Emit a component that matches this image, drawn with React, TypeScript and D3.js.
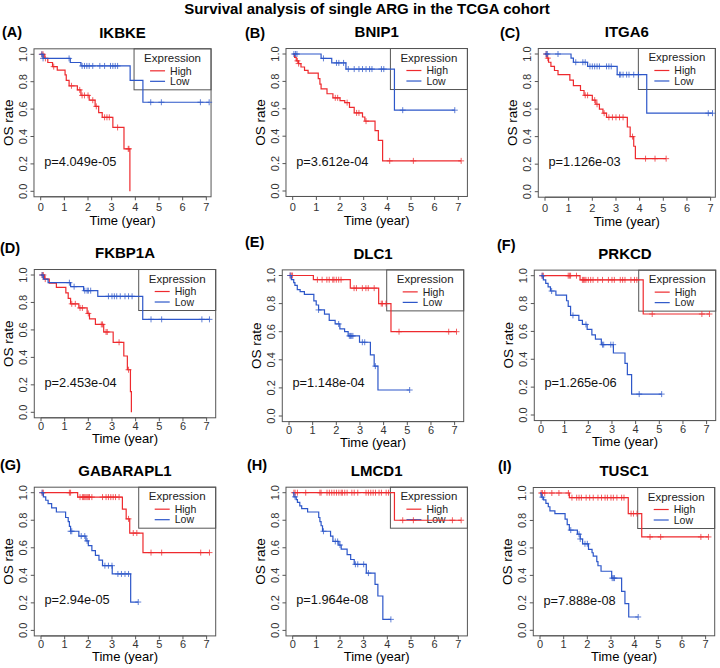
import React from "react";
import * as d3 from "d3";

// ---------- text ----------
const mainTitle = "Survival analysis of single ARG in the TCGA cohort";
const panelLetters = ["(A)", "(B)", "(C)", "(D)", "(E)", "(F)", "(G)", "(H)", "(I)"];
const genes = ["IKBKE", "BNIP1", "ITGA6", "FKBP1A", "DLC1", "PRKCD", "GABARAPL1", "LMCD1", "TUSC1"];
const pValues = ["p=4.049e-05", "p=3.612e-04", "p=1.126e-03", "p=2.453e-04", "p=1.148e-04", "p=1.265e-06", "p=2.94e-05", "p=1.964e-08", "p=7.888e-08"];
const xTicks = [0, 1, 2, 3, 4, 5, 6, 7];
const yTicks = [0, 0.2, 0.4, 0.6, 0.8, 1.0];
const legendTitle = "Expression";
const groups = ["High", "Low"];
const xLabel = "Time (year)";
const yLabel = "OS rate";

// ---------- KM steps: [time, survival after drop] and censor times ----------
const ikbkeHigh = [[0.15, 0.97], [0.3, 0.94], [0.5, 0.91], [0.7, 0.885], [1.03, 0.85], [1.08, 0.81], [1.2, 0.77], [1.55, 0.74], [1.7, 0.70], [2.05, 0.665], [2.3, 0.62], [2.45, 0.575], [2.6, 0.54], [3.05, 0.466], [3.52, 0.31], [3.77, 0]];
const ikbkeHighCens = [0.05, 0.1, 0.2, 0.55, 1.3, 1.65, 1.75, 1.85, 2.0, 2.2, 2.35, 2.7, 2.8, 2.9, 3.25, 3.7, 3.73];
const ikbkeLow = [[0.1, 0.97], [1.25, 0.94], [1.7, 0.915], [3.78, 0.81], [4.32, 0.65]];
const ikbkeLowCens = [0.05, 0.1, 1.2, 1.75, 1.85, 1.95, 2.05, 2.2, 2.5, 2.7, 2.95, 3.05, 3.15, 3.25, 4.65, 5.1, 6.75, 7.12];

const bnip1High = [[0.08, 0.975], [0.15, 0.95], [0.25, 0.93], [0.35, 0.905], [0.5, 0.88], [0.65, 0.86], [1.08, 0.82], [1.15, 0.78], [1.2, 0.745], [1.45, 0.71], [1.7, 0.68], [2.0, 0.66], [2.2, 0.645], [2.4, 0.61], [2.6, 0.57], [2.95, 0.54], [3.05, 0.51], [3.48, 0.44], [3.62, 0.37], [3.8, 0.22]];
const bnip1HighCens = [0.2, 0.25, 1.8, 1.9, 2.3, 2.7, 2.8, 3.1, 4.1, 5.1, 7.12];
const bnip1Low = [[1.2, 0.968], [1.65, 0.935], [2.25, 0.89], [4.3, 0.59]];
const bnip1LowCens = [0.05, 0.12, 0.18, 1.3, 1.85, 1.95, 2.15, 2.35, 2.6, 2.8, 2.95, 3.1, 3.25, 3.35, 3.75, 3.85, 4.65, 6.85];

const itga6High = [[0.08, 0.97], [0.15, 0.94], [0.25, 0.91], [0.4, 0.88], [0.55, 0.85], [1.05, 0.81], [1.2, 0.77], [1.5, 0.735], [1.65, 0.70], [2.0, 0.665], [2.15, 0.635], [2.3, 0.60], [2.45, 0.57], [2.6, 0.54], [3.48, 0.47], [3.6, 0.40], [3.75, 0.33], [3.82, 0.24]];
const itga6HighCens = [0.05, 0.12, 1.7, 1.8, 2.1, 2.2, 2.5, 2.7, 2.85, 3.0, 3.15, 3.3, 3.7, 4.25, 4.65, 5.12];
const itga6Low = [[1.1, 0.97], [1.2, 0.94], [1.8, 0.91], [3.05, 0.85], [4.3, 0.57]];
const itga6LowCens = [0.05, 0.1, 0.55, 1.3, 1.6, 1.7, 1.9, 2.0, 2.1, 2.2, 2.3, 2.6, 2.7, 2.8, 3.15, 3.2, 3.3, 3.45, 3.55, 3.75, 3.95, 6.9, 7.08];

const fkbp1aHigh = [[0.15, 0.97], [0.35, 0.94], [0.65, 0.91], [1.05, 0.87], [1.15, 0.83], [1.25, 0.79], [1.6, 0.76], [1.95, 0.72], [2.05, 0.68], [2.3, 0.64], [2.65, 0.585], [3.05, 0.51], [3.5, 0.41], [3.65, 0.31], [3.78, 0.15], [3.82, 0]];
const fkbp1aHighCens = [0.05, 0.1, 0.18, 1.3, 1.45, 1.65, 1.75, 2.0, 2.55, 2.6, 2.75, 2.8, 3.3, 3.7];
const fkbp1aLow = [[0.1, 0.97], [0.3, 0.944], [1.25, 0.915], [1.8, 0.886], [2.4, 0.845], [4.3, 0.677]];
const fkbp1aLowCens = [0.05, 1.2, 1.4, 1.85, 1.95, 2.0, 2.1, 2.85, 3.0, 3.1, 3.2, 3.35, 3.55, 3.7, 3.85, 4.65, 5.1, 6.8, 7.12];

const dlc1High = [[1.03, 0.97], [2.59, 0.91], [3.79, 0.80], [4.31, 0.60]];
const dlc1HighCens = [0.05, 0.1, 0.15, 1.2, 1.4, 1.6, 1.7, 1.85, 1.9, 2.0, 2.1, 2.2, 2.75, 2.85, 3.1, 3.25, 3.35, 3.6, 3.9, 3.95, 4.1, 4.65, 6.75, 7.08];
const dlc1Low = [[0.1, 0.97], [0.2, 0.95], [0.25, 0.93], [0.35, 0.90], [0.47, 0.885], [0.65, 0.865], [1.05, 0.82], [1.15, 0.79], [1.25, 0.755], [1.5, 0.725], [1.7, 0.68], [1.95, 0.655], [2.15, 0.62], [2.35, 0.60], [2.5, 0.57], [2.98, 0.525], [3.44, 0.435], [3.6, 0.355], [3.76, 0.185]];
const dlc1LowCens = [0.05, 1.25, 2.1, 2.55, 2.6, 2.65, 2.7, 3.1, 3.2, 3.65, 5.1];

const prkcdHigh = [[1.65, 0.97], [4.32, 0.725]];
const prkcdHighCens = [0.05, 0.1, 1.15, 1.2, 1.25, 1.5, 1.75, 1.8, 1.85, 1.9, 2.0, 2.1, 2.2, 2.4, 2.6, 2.85, 3.0, 3.1, 3.35, 3.45, 3.55, 3.8, 3.95, 4.05, 4.7, 6.8, 7.12];
const prkcdLow = [[0.1, 0.97], [0.2, 0.945], [0.3, 0.92], [0.4, 0.89], [0.63, 0.86], [1.08, 0.82], [1.15, 0.78], [1.25, 0.715], [1.6, 0.68], [1.75, 0.65], [1.95, 0.615], [2.15, 0.575], [2.3, 0.545], [2.55, 0.505], [3.06, 0.445], [3.55, 0.37], [3.65, 0.29], [3.83, 0.15]];
const prkcdLowCens = [0.05, 0.45, 1.35, 1.9, 2.6, 2.65, 2.95, 3.05, 4.15, 5.1];

const gabarapl1High = [[1.55, 0.968], [3.44, 0.88], [3.6, 0.81], [3.75, 0.707], [4.31, 0.565]];
const gabarapl1HighCens = [0.05, 0.1, 1.2, 1.25, 1.65, 1.75, 1.8, 1.85, 1.9, 1.95, 2.0, 2.05, 2.15, 2.6, 2.75, 2.85, 2.95, 3.05, 3.15, 3.3, 3.7, 3.9, 4.05, 4.65, 5.1, 6.75, 7.12];
const gabarapl1Low = [[0.1, 0.97], [0.2, 0.945], [0.3, 0.92], [0.45, 0.89], [0.65, 0.86], [1.04, 0.82], [1.15, 0.79], [1.2, 0.755], [1.25, 0.72], [1.6, 0.685], [1.9, 0.65], [2.0, 0.615], [2.15, 0.58], [2.3, 0.545], [2.45, 0.51], [2.6, 0.47], [3.01, 0.41], [3.79, 0.206]];
const gabarapl1LowCens = [0.05, 1.25, 1.3, 1.7, 1.85, 1.95, 2.7, 2.85, 3.0, 3.25, 3.4, 3.55, 3.7, 4.11];

const lmcd1High = [[4.3, 0.80]];
const lmcd1HighCens = [0.05, 0.1, 0.2, 0.55, 1.15, 1.2, 1.45, 1.55, 1.65, 1.75, 1.85, 1.95, 2.05, 2.1, 2.2, 2.3, 2.5, 2.6, 2.75, 3.1, 3.2, 3.3, 3.4, 3.5, 3.65, 3.75, 3.95, 4.05, 4.65, 5.1, 6.75, 7.12];
const lmcd1Low = [[0.05, 0.97], [0.15, 0.95], [0.2, 0.93], [0.3, 0.905], [0.38, 0.884], [0.63, 0.86], [1.1, 0.82], [1.15, 0.79], [1.2, 0.76], [1.26, 0.72], [1.6, 0.685], [1.7, 0.646], [1.95, 0.62], [2.05, 0.59], [2.3, 0.55], [2.45, 0.515], [2.6, 0.48], [3.11, 0.416], [3.48, 0.334], [3.6, 0.25], [3.81, 0.08]];
const lmcd1LowCens = [0.1, 1.3, 1.8, 1.9, 2.0, 2.65, 2.75, 3.0, 3.2, 4.15];

const tusc1High = [[1.24, 0.966], [3.73, 0.85], [4.3, 0.68]];
const tusc1HighCens = [0.05, 0.1, 0.2, 0.5, 0.8, 1.2, 1.35, 1.55, 1.65, 1.75, 1.95, 2.1, 2.25, 2.45, 2.6, 2.75, 2.85, 3.0, 3.1, 3.25, 3.45, 3.55, 3.85, 3.95, 4.1, 4.65, 5.1, 6.8, 7.12];
const tusc1Low = [[0.05, 0.97], [0.15, 0.95], [0.25, 0.925], [0.35, 0.90], [0.42, 0.87], [0.63, 0.85], [1.06, 0.81], [1.15, 0.77], [1.24, 0.73], [1.58, 0.70], [1.7, 0.665], [1.8, 0.63], [2.05, 0.59], [2.2, 0.565], [2.25, 0.54], [2.4, 0.50], [2.45, 0.47], [2.58, 0.43], [3.03, 0.38], [3.45, 0.284], [3.59, 0.194], [3.75, 0.097]];
const tusc1LowCens = [0.1, 1.3, 1.65, 1.7, 1.9, 2.0, 3.05, 3.1, 3.15, 4.15];

const highSteps = [ikbkeHigh, bnip1High, itga6High, fkbp1aHigh, dlc1High, prkcdHigh, gabarapl1High, lmcd1High, tusc1High];
const highCens = [ikbkeHighCens, bnip1HighCens, itga6HighCens, fkbp1aHighCens, dlc1HighCens, prkcdHighCens, gabarapl1HighCens, lmcd1HighCens, tusc1HighCens];
const lowSteps = [ikbkeLow, bnip1Low, itga6Low, fkbp1aLow, dlc1Low, prkcdLow, gabarapl1Low, lmcd1Low, tusc1Low];
const lowCens = [ikbkeLowCens, bnip1LowCens, itga6LowCens, fkbp1aLowCens, dlc1LowCens, prkcdLowCens, gabarapl1LowCens, lmcd1LowCens, tusc1LowCens];

// ---------- layout (pixel position of t=0 / S=1.0, px per unit S, right edge of x range) ----------
const layout = [
  { x0: 40.7, y1: 54.3, yLen: 137, xr: 7.2, lx: 2, ly: 32, row: 0 },
  { x0: 292.7, y1: 54, yLen: 137, xr: 7.384, lx: 245, ly: 33, row: 0 },
  { x0: 545, y1: 54, yLen: 137.7, xr: 7.2, lx: 500, ly: 33, row: 0 },
  { x0: 41, y1: 275, yLen: 137.3, xr: 7.384, lx: 0, ly: 248, row: 1 },
  { x0: 289, y1: 275.5, yLen: 140.5, xr: 7.384, lx: 245, ly: 242, row: 1 },
  { x0: 541, y1: 275.7, yLen: 139.3, xr: 7.384, lx: 497, ly: 245, row: 1 },
  { x0: 41, y1: 492.7, yLen: 137.7, xr: 7.384, lx: 0, ly: 465, row: 2 },
  { x0: 292.7, y1: 492.7, yLen: 137.7, xr: 7.384, lx: 247, ly: 465, row: 2 },
  { x0: 540, y1: 493, yLen: 137.3, xr: 7.384, lx: 498, ly: 466, row: 2 },
];
const PX_PER_YEAR = 23.66;
const X_MIN = -0.284;
const Y_DOMAIN = [-0.04, 1.04];

const RED = "#EE2A2E";
const BLUE = "#2D57C9";
const AXIS = "#555";
const FONT = "'Liberation Sans', Arial, Helvetica, sans-serif";

function survAt(steps: number[][], t: number) {
  let s = 1;
  for (const [ti, si] of steps) if (ti <= t) s = si;
  return s;
}

function Panel({ i }: { i: number }) {
  const L = layout[i];
  const x = d3
    .scaleLinear()
    .domain([X_MIN, L.xr])
    .range([L.x0 + X_MIN * PX_PER_YEAR, L.x0 + L.xr * PX_PER_YEAR]);
  const y = d3
    .scaleLinear()
    .domain(Y_DOMAIN)
    .range([L.y1 + (1 - Y_DOMAIN[0]) * L.yLen, L.y1 + (1 - Y_DOMAIN[1]) * L.yLen]);
  const [bl, br] = x.range();
  const [bb, bt] = y.range();
  const line = d3
    .line<number[]>()
    .x((d) => x(d[0]))
    .y((d) => y(d[1]))
    .curve(d3.curveStepAfter);

  const series = [
    { steps: highSteps[i], cens: highCens[i], color: RED },
    { steps: lowSteps[i], cens: lowCens[i], color: BLUE },
  ];

  const tickLabOff = L.row === 0 ? 14.5 : 12.5;
  const xLabOff = L.row === 0 ? 28.5 : 25.5;

  // legend geometry
  const legW = 77;
  const legH = 41;
  const legL = br - legW;

  return (
    <g>
      <text x={L.lx} y={L.ly + 5} fontFamily={FONT} fontWeight="bold" fontSize={14.5}>
        {panelLetters[i]}
      </text>
      <text x={(bl + br) / 2} y={L.y1 - 22 + 5.4} textAnchor="middle" fontFamily={FONT} fontWeight="bold" fontSize={15}>
        {genes[i]}
      </text>
      {/* legend (transparent, drawn below curves) */}
      <rect x={legL} y={bt} width={legW} height={legH} fill="none" stroke={AXIS} strokeWidth={1} />
      <text x={legL + legW / 2} y={bt + 13} textAnchor="middle" fontFamily={FONT} fontSize={11.5} fill="#222">
        {legendTitle}
      </text>
      {groups.map((g, k) => (
        <g key={g}>
          <line
            x1={legL + 16}
            x2={legL + 31}
            y1={bt + 22 + k * 10.5}
            y2={bt + 22 + k * 10.5}
            stroke={k === 0 ? RED : BLUE}
            strokeWidth={1.2}
          />
          <text x={legL + 36} y={bt + 25.8 + k * 10.5} fontFamily={FONT} fontSize={10.5} fill="#222">
            {g}
          </text>
        </g>
      ))}
      {/* box */}
      <rect x={bl} y={bt} width={br - bl} height={bb - bt} fill="none" stroke={AXIS} strokeWidth={1} />
      {/* x axis */}
      {xTicks.map((t) => (
        <g key={"x" + t}>
          <line x1={x(t)} x2={x(t)} y1={bb} y2={bb + 3.5} stroke={AXIS} strokeWidth={1} />
          <text x={x(t)} y={bb + tickLabOff} textAnchor="middle" fontFamily={FONT} fontSize={11} fill="#333">
            {t}
          </text>
        </g>
      ))}
      <line x1={x(0)} x2={x(7)} y1={bb} y2={bb} stroke={AXIS} strokeWidth={1} />
      {/* y axis */}
      {yTicks.map((v) => (
        <g key={"y" + v}>
          <line x1={bl - 3.5} x2={bl} y1={y(v)} y2={y(v)} stroke={AXIS} strokeWidth={1} />
          <text
            transform={`translate(${bl - 6.8},${y(v)}) rotate(-90)`}
            textAnchor="middle"
            fontFamily={FONT}
            fontSize={11}
            fill="#333"
          >
            {v.toFixed(1)}
          </text>
        </g>
      ))}
      <text x={(bl + br) / 2} y={bb + xLabOff} textAnchor="middle" fontFamily={FONT} fontSize={13}>
        {xLabel}
      </text>
      <text
        transform={`translate(${bl - 21},${(bt + bb) / 2}) rotate(-90)`}
        textAnchor="middle"
        fontFamily={FONT}
        fontSize={13.5}
      >
        {yLabel}
      </text>
      {/* curves */}
      {series.map((s, k) => {
        const last = s.steps[s.steps.length - 1];
        const end = Math.max(last[0], ...s.cens);
        const pts = [[0, 1], ...s.steps, [end, last[1]]];
        return (
          <g key={k}>
            <path d={line(pts) || ""} fill="none" stroke={s.color} strokeWidth={1.2} />
            {s.cens.map((c, j) => {
              const cx = x(c);
              const cy = y(survAt(s.steps, c));
              return (
                <path
                  key={j}
                  d={`M${cx - 3},${cy}H${cx + 3}M${cx},${cy - 3}V${cy + 3}`}
                  stroke={s.color}
                  strokeWidth={1}
                  opacity={0.75}
                />
              );
            })}
          </g>
        );
      })}
      <text x={x(0) + 3.5} y={L.y1 + 107 + 4.6} fontFamily={FONT} fontSize={12.8} fill="#111">
        {pValues[i]}
      </text>
    </g>
  );
}

export default function App() {
  return (
    <svg
      width={720}
      height={668}
      viewBox="0 0 720 668"
      style={{ position: "absolute", left: 0, top: 0, background: "#fff" }}
    >
      <rect width={720} height={668} fill="#fff" />
      <text x={367} y={14} textAnchor="middle" fontFamily={FONT} fontWeight="bold" fontSize={15}>
        {mainTitle}
      </text>
      {genes.map((_, i) => (
        <Panel key={i} i={i} />
      ))}
    </svg>
  );
}
